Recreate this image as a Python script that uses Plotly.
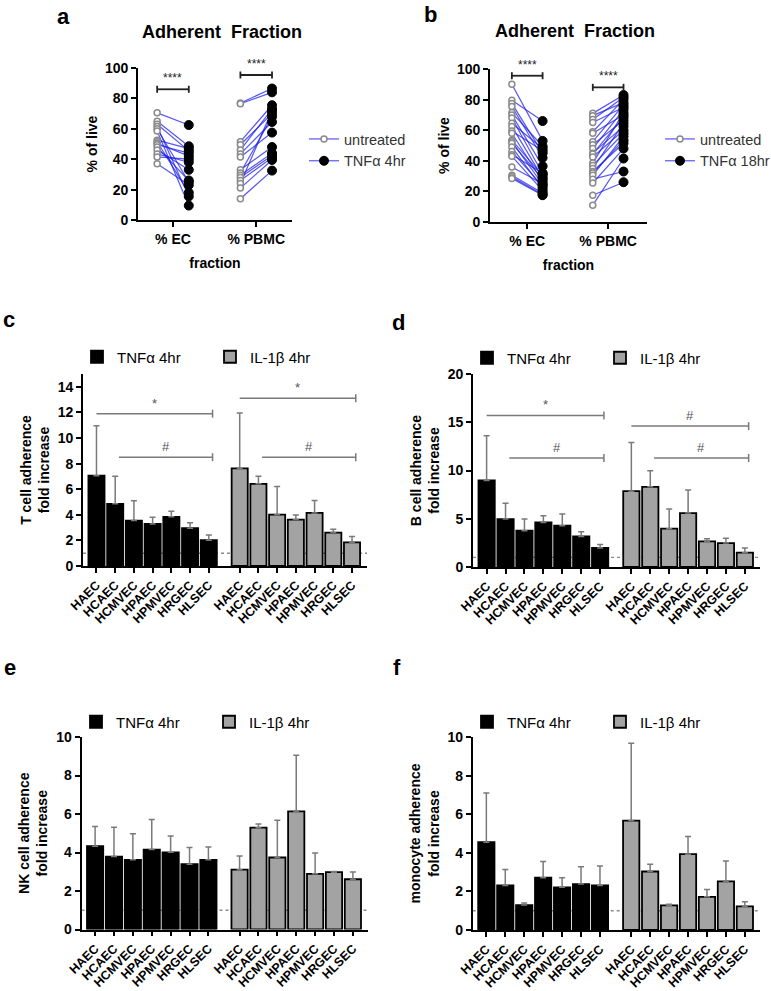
import plotly.graph_objects as go

W, H = 771, 991
FONT = "Liberation Sans, Arial, sans-serif"

# ---------------- data ----------------
fractions = ["% EC", "% PBMC"]
cells = ["HAEC", "HCAEC", "HCMVEC", "HPAEC", "HPMVEC", "HRGEC", "HLSEC"]

# panel a (TNFa 4hr), paired samples
a_ec_untreated = [70.5, 65, 63, 61.5, 60, 58.5, 52.5, 51.5, 50.5, 49.5, 48, 46, 43.5, 41.5, 37]
a_ec_tnf = [62.5, 48.5, 45.5, 15.5, 25, 9.5, 47, 18, 42, 44, 26, 33, 38, 40, 23]
a_pbmc_untreated = [77, 76.5, 51.5, 49.5, 46, 43.5, 41.5, 33, 31, 29.5, 28, 26, 24, 21, 14]
a_pbmc_tnf = [86.5, 84, 75.5, 70, 73, 64.5, 57.5, 48, 68, 44, 42.5, 41, 72, 39.5, 32.5]

# panel b (TNFa 18hr), paired samples
b_ec_untreated = [90, 79.5, 77.5, 75.5, 71.5, 70, 68, 64.5, 62.5, 59.5, 58, 53.5, 52.5, 51.5, 49, 46, 44, 43, 36, 30.5, 29.5, 28.5]
b_ec_tnf = [53, 66, 45, 42, 49.5, 36.5, 31.5, 48, 29, 46.5, 26.5, 30.5, 24.5, 28, 22, 23.5, 32, 20.5, 25, 19, 18, 17.5]
b_pbmc_untreated = [71, 69.5, 67, 65, 59, 58, 52.5, 50.5, 48, 45, 44.5, 42.5, 38.5, 37, 35, 33, 32, 30.5, 28, 25.5, 17.5, 11]
b_pbmc_tnf = [83, 78, 81.5, 75, 80, 70, 76.5, 66.5, 73.5, 62.5, 68.5, 60, 71.5, 58, 64.5, 51.5, 53.5, 56, 33, 48, 26, 41.5]

# panel c: T cell adherence fold increase
c_tnf = [7.05, 4.86, 3.55, 3.29, 3.84, 2.95, 2.01]
c_tnf_err = [3.9, 2.15, 1.55, 0.52, 0.44, 0.42, 0.42]
c_il = [7.62, 6.42, 4.02, 3.63, 4.15, 2.61, 1.85]
c_il_err = [4.34, 0.6, 2.19, 0.36, 0.97, 0.26, 0.45]

# panel d: B cell adherence fold increase
d_tnf = [8.97, 4.97, 3.76, 4.62, 4.28, 3.17, 1.97]
d_tnf_err = [4.63, 1.63, 1.21, 0.69, 1.2, 0.49, 0.37]
d_il = [7.86, 8.31, 3.97, 5.59, 2.66, 2.48, 1.48]
d_il_err = [5.04, 1.66, 2.03, 2.38, 0.27, 0.49, 0.49]

# panel e: NK cell adherence fold increase
e_tnf = [4.33, 3.79, 3.62, 4.15, 4.01, 3.39, 3.62]
e_tnf_err = [1.02, 1.52, 1.36, 1.56, 0.85, 0.87, 0.67]
e_il = [3.11, 5.29, 3.74, 6.14, 2.89, 2.98, 2.61]
e_il_err = [0.71, 0.19, 1.93, 2.91, 1.09, 0.03, 0.38]

# panel f: monocyte adherence fold increase
f_tnf = [4.55, 2.31, 1.29, 2.71, 2.21, 2.38, 2.31]
f_tnf_err = [2.55, 0.83, 0.11, 0.84, 0.5, 0.9, 1.0]
f_il = [5.67, 3.03, 1.28, 3.93, 1.72, 2.52, 1.22]
f_il_err = [4.0, 0.38, 0.05, 0.91, 0.38, 1.05, 0.25]

# significance: (group, start cell, end cell, level, label)
c_sig = [("TNF", "HAEC", "HLSEC", 11.9, "*"), ("TNF", "HCAEC", "HLSEC", 8.5, "#"),
         ("IL", "HAEC", "HLSEC", 13.1, "*"), ("IL", "HCAEC", "HLSEC", 8.5, "#")]
d_sig = [("TNF", "HAEC", "HLSEC", 15.7, "*"), ("TNF", "HCAEC", "HLSEC", 11.3, "#"),
         ("IL", "HAEC", "HLSEC", 14.6, "#"), ("IL", "HCAEC", "HLSEC", 11.3, "#")]
a_sig = [("% EC", 86.0, "****"), ("% PBMC", 95.4, "****")]
b_sig = [("% EC", 95.6, "****"), ("% PBMC", 88.0, "****")]

# ---------------- layout helpers ----------------
fig = go.Figure()
layout = {}
annotations = []
shapes = []


def xdom(p0, p1):
    return [p0 / W, p1 / W]


def ydom(top, bot):
    return [1 - bot / H, 1 - top / H]


def ax_names(k):
    s = "" if k == 1 else str(k)
    return "x" + s, "y" + s, "xaxis" + s, "yaxis" + s


BOLD14 = dict(family=FONT, size=14, color="black", weight="bold")
axis_base = dict(showline=True, linecolor="black", linewidth=1.8, ticks="outside",
                 ticklen=5, tickwidth=1.6, tickcolor="black", showgrid=False,
                 zeroline=False, tickfont=BOLD14, fixedrange=True)

BLUE = "rgba(30,30,235,0.75)"
OFF_U, OFF_T = -0.19, 0.19


def scatter_panel(k, ec_u, ec_t, pb_u, pb_t, treat_label, legend_name, box, xr, sig,
                  title_xy, legend_pos):
    xn, yn, xa, ya = ax_names(k)
    groups = [(1, ec_u, ec_t), (2, pb_u, pb_t)]
    lx, ly = [], []
    for c, u, t in groups:
        for uu, tt in zip(u, t):
            lx += [c + OFF_U, c + OFF_T, None]
            ly += [uu, tt, None]
    fig.add_trace(go.Scatter(x=lx, y=ly, mode="lines", line=dict(color=BLUE, width=1.2),
                             showlegend=False, hoverinfo="skip", xaxis=xn, yaxis=yn))
    for lab, idx, off, mk in [
        ("untreated", 1, OFF_U, dict(symbol="circle", size=6, color="white",
                                     line=dict(color="#8a8a8a", width=1.5))),
        (treat_label, 2, OFF_T, dict(symbol="circle", size=9, color="black",
                                     line=dict(color="black", width=1)))]:
        px_, py_ = [], []
        for c, u, t in groups:
            vals = u if idx == 1 else t
            for v in vals:
                px_ += [c + off, None]
                py_ += [v, None]
        fig.add_trace(go.Scatter(x=px_, y=py_, mode="lines+markers", name=lab,
                                 line=dict(color=BLUE, width=1.2), marker=mk,
                                 connectgaps=False, legend=legend_name,
                                 xaxis=xn, yaxis=yn))
    # significance brackets
    for frac, lvl, lab in sig:
        c = fractions.index(frac) + 1
        x0, x1 = c + OFF_U, c + OFF_T
        fig.add_trace(go.Scatter(x=[x0, x1, None, x0, x0, None, x1, x1],
                                 y=[lvl, lvl, None, lvl - 2.3, lvl + 2.3, None, lvl - 2.3, lvl + 2.3],
                                 mode="lines", line=dict(color="#222", width=1.8),
                                 showlegend=False, hoverinfo="skip", xaxis=xn, yaxis=yn))
        annotations.append(dict(x=c, y=lvl, xref=xn, yref=yn, text=lab, showarrow=False,
                                xanchor="center", yanchor="bottom", yshift=2,
                                font=dict(family=FONT, size=12, color="#222")))
    layout[xa] = dict(axis_base, domain=xdom(*box[0]), range=xr, anchor=yn,
                      tickvals=[1, 2], ticktext=fractions,
                      title=dict(text="fraction", font=BOLD14, standoff=12))
    layout[ya] = dict(axis_base, domain=ydom(*box[1]), range=[0, 100], anchor=xn,
                      tickvals=[0, 20, 40, 60, 80, 100],
                      title=dict(text="% of live", font=BOLD14, standoff=4))
    annotations.append(dict(x=title_xy[0] / W, y=1 - title_xy[1] / H, xref="paper", yref="paper",
                            text="Adherent\u00a0 Fraction", showarrow=False,
                            xanchor="center", yanchor="middle",
                            font=dict(family=FONT, size=18, color="black", weight="bold")))
    layout[legend_name] = dict(x=legend_pos[0] / W, y=1 - legend_pos[1] / H, xanchor="left",
                               yanchor="middle", bgcolor="rgba(0,0,0,0)",
                               font=dict(family=FONT, size=14.5, color="#333"),
                               itemclick=False, itemdoubleclick=False)


POS_TNF = [i for i in range(len(cells))]
POS_IL = [7.65 + i for i in range(len(cells))]


def bar_panel(k, tnf, tnf_err, il, il_err, ytitle, yr, dtick, box, sig, legend_name, legend_pos):
    xn, yn, xa, ya = ax_names(k)
    for nm, pos, vals, err, col in [("TNF\u03b1 4hr", POS_TNF, tnf, tnf_err, "black"),
                                    ("IL-1\u03b2 4hr", POS_IL, il, il_err, "#a3a3a3")]:
        fig.add_trace(go.Bar(x=pos, y=vals, name=nm, width=0.86,
                             marker=dict(color=col, line=dict(color="black", width=1.8)),
                             error_y=dict(type="data", array=err, arrayminus=[0] * len(err),
                                          symmetric=False, color="#7a7a7a", thickness=1.5, width=3),
                             legend=legend_name, xaxis=xn, yaxis=yn))
    # dotted baseline at fold increase = 1
    shapes.append(dict(type="line", xref=xn + " domain", yref=yn, x0=0, x1=1, y0=1, y1=1,
                       line=dict(color="#8a8a8a", width=1.4, dash="dot"), layer="below"))
    ppu = (box[1][1] - box[1][0]) / (yr[1] - yr[0])
    cap = 4.0 / ppu
    for grp, c0, c1, lvl, lab in sig:
        pos = POS_TNF if grp == "TNF" else POS_IL
        x0 = pos[cells.index(c0)] + (0.2 if c0 != "HAEC" else 0.0)
        x1 = pos[cells.index(c1)] + 0.2
        fig.add_trace(go.Scatter(x=[x0, x1, None, x1, x1], y=[lvl, lvl, None, lvl - cap, lvl + cap],
                                 mode="lines", line=dict(color="#7a7a7a", width=1.5),
                                 showlegend=False, hoverinfo="skip", xaxis=xn, yaxis=yn))
        annotations.append(dict(x=(x0 + x1) / 2, y=lvl, xref=xn, yref=yn, text=lab,
                                showarrow=False, xanchor="center", yanchor="bottom", yshift=1,
                                font=dict(family=FONT, size=13, color="#555")))
    layout[xa] = dict(axis_base, domain=xdom(*box[0]), range=[-0.72, 14.45], anchor=yn,
                      tickvals=POS_TNF + POS_IL, ticktext=cells + cells, tickangle=-45,
                      tickfont=dict(family=FONT, size=12.5, color="black", weight="bold"))
    layout[ya] = dict(axis_base, domain=ydom(*box[1]), range=yr, anchor=xn, dtick=dtick,
                      tick0=0, title=dict(text=ytitle, font=BOLD14, standoff=5))
    layout[legend_name] = dict(x=legend_pos[0] / W, y=1 - legend_pos[1] / H, xanchor="left",
                               yanchor="middle", orientation="h", entrywidth=88,
                               entrywidthmode="pixels", bgcolor="rgba(0,0,0,0)",
                               font=dict(family=FONT, size=15, color="black"),
                               itemclick=False, itemdoubleclick=False)


scatter_panel(1, a_ec_untreated, a_ec_tnf, a_pbmc_untreated, a_pbmc_tnf, "TNF\u03b1 4hr",
              "legend", ((138, 292), (68, 220)), [0.58, 2.43], a_sig, (222, 32), (304, 150))
scatter_panel(2, b_ec_untreated, b_ec_tnf, b_pbmc_untreated, b_pbmc_tnf, "TNF\u03b1 18hr",
              "legend2", ((490, 647), (69, 222)), [0.54, 2.48], b_sig, (575, 31), (660, 150))

bar_panel(3, c_tnf, c_tnf_err, c_il, c_il_err, "T cell adherence<br>fold increase", [0, 15], 2,
          ((83, 367), (374, 566)), c_sig, "legend3", (77, 357))
bar_panel(4, d_tnf, d_tnf_err, d_il, d_il_err, "B cell adherence<br>fold increase", [0, 20], 5,
          ((473, 760), (374, 567)), d_sig, "legend4", (467, 358))
bar_panel(5, e_tnf, e_tnf_err, e_il, e_il_err, "NK cell adherence<br>fold increase", [0, 10], 2,
          ((81.5, 368), (737, 929.5)), [], "legend5", (76, 722))
bar_panel(6, f_tnf, f_tnf_err, f_il, f_il_err, "monocyte adherence<br>fold increase", [0, 10], 2,
          ((472.7, 760), (737, 930)), [], "legend6", (467, 722))

# panel letters
for lab, (px, py) in {"a": (63, 16), "b": (430, 15), "c": (9, 320), "d": (398, 322),
                      "e": (10, 667), "f": (397, 667)}.items():
    annotations.append(dict(x=px / W, y=1 - py / H, xref="paper", yref="paper", text=lab,
                            showarrow=False, xanchor="center", yanchor="middle",
                            font=dict(family=FONT, size=22, color="black", weight="bold")))

fig.update_layout(width=W, height=H, margin=dict(l=0, r=0, t=0, b=0, autoexpand=False),
                  paper_bgcolor="white", plot_bgcolor="white", barmode="overlay",
                  font=dict(family=FONT, color="black"), annotations=annotations,
                  shapes=shapes, **layout)

fig.write_html("out.html", config={"displayModeBar": False},
               post_script="document.body.style.margin='0';")
